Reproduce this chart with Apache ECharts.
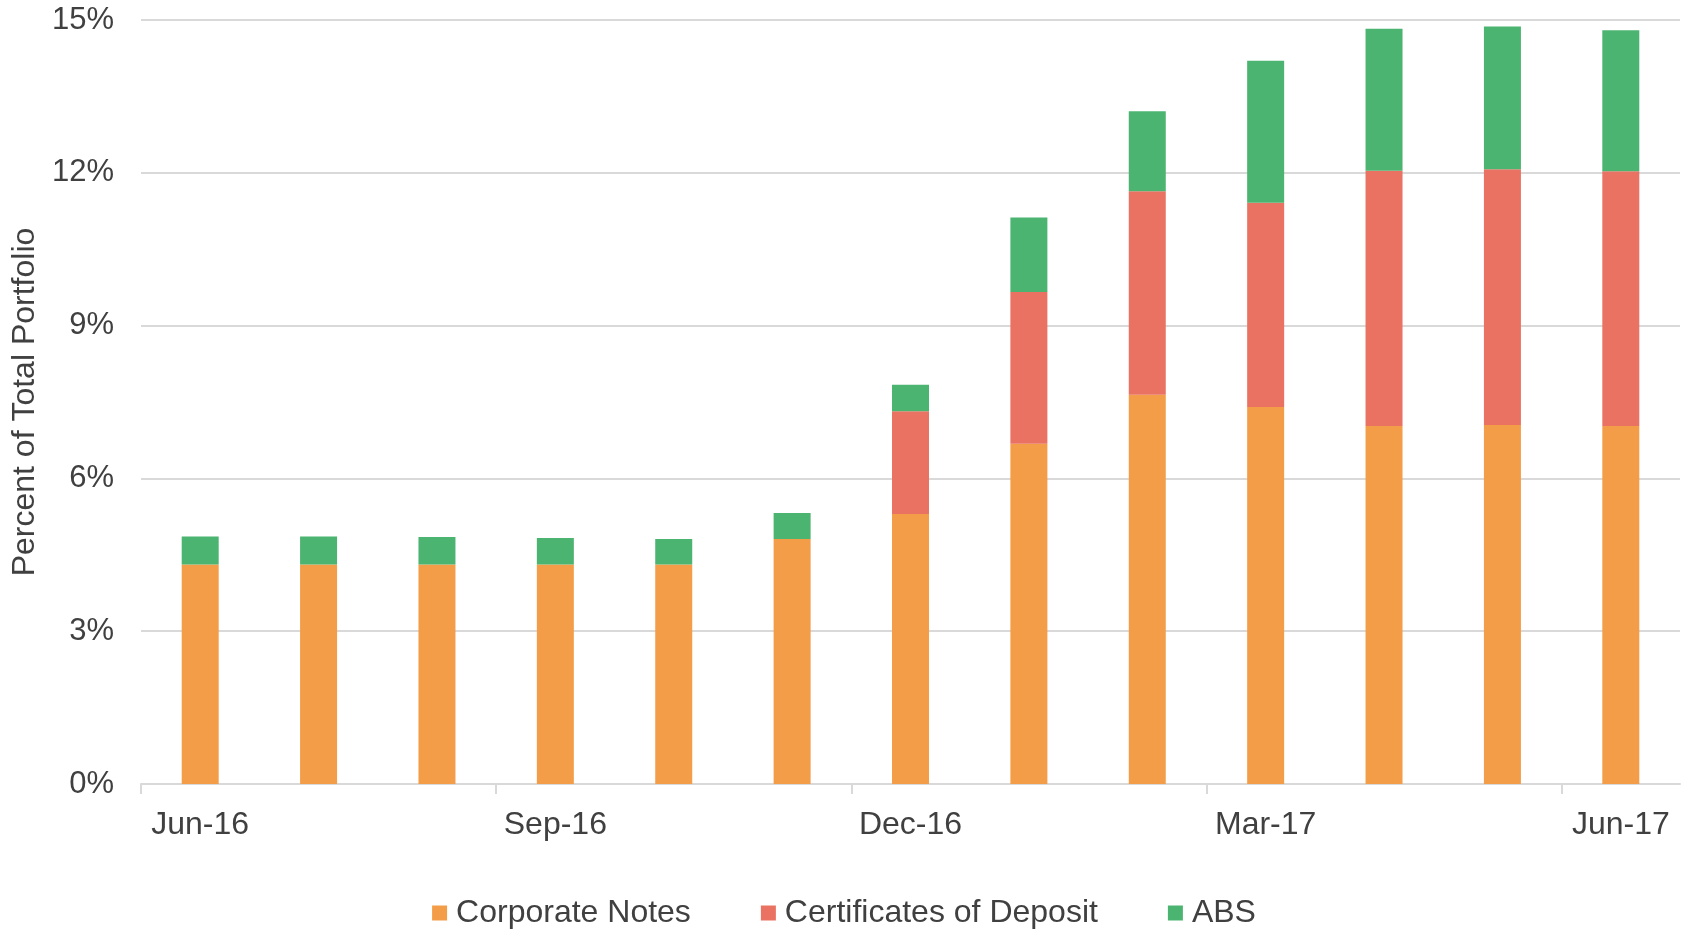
<!DOCTYPE html>
<html>
<head>
<meta charset="utf-8">
<title>Portfolio Composition</title>
<script src="https://cdn.jsdelivr.net/npm/echarts@6/dist/echarts.min.js"></script>
<style>
  html, body { margin: 0; padding: 0; background: #ffffff; }
  #chart { width: 1688px; height: 930px; }
</style>
</head>
<body>
<div id="chart"></div>
<script>
// Monthly categories, June 2016 through June 2017
const months = ['Jun-16', 'Jul-16', 'Aug-16', 'Sep-16', 'Oct-16', 'Nov-16', 'Dec-16',
                'Jan-17', 'Feb-17', 'Mar-17', 'Apr-17', 'May-17', 'Jun-17'];

// Share of total portfolio, in percent
const corporateNotes = [4.31, 4.31, 4.31, 4.31, 4.31, 4.81, 5.30, 6.68, 7.64, 7.40, 7.03, 7.05, 7.03];
const certificatesOfDeposit = [0, 0, 0, 0, 0, 0, 2.02, 2.98, 4.00, 4.01, 5.01, 5.02, 5.00];
const abs = [0.55, 0.55, 0.54, 0.52, 0.50, 0.51, 0.52, 1.46, 1.57, 2.79, 2.79, 2.80, 2.77];

const yTicks = { min: 0, max: 15, step: 3 };

// Quarter boundaries (category index at the left edge of each quarter's first month)
const quarterTicks = [0, 3, 6, 9, 12];

const FONT = '"Liberation Sans", Arial, sans-serif';
const TEXT = '#404040';
const GRID = '#d9d9d9';

const chart = echarts.init(document.getElementById('chart'), null, { renderer: 'canvas' });

function barSeries(name, data, color) {
  return {
    name: name,
    type: 'bar',
    stack: 'total',
    xAxisIndex: 0,
    data: data,
    barWidth: 37,
    itemStyle: { color: color },
    emphasis: { disabled: true }
  };
}

chart.setOption({
  animation: false,
  backgroundColor: '#ffffff',
  textStyle: { fontFamily: FONT },
  grid: { left: 141, right: 8, top: 20, bottom: 146, containLabel: false },
  legend: {
    bottom: -4,
    left: 'center',
    itemWidth: 15,
    itemHeight: 15,
    itemGap: 70,
    icon: 'rect',
    textStyle: { fontFamily: FONT, fontSize: 32, color: TEXT, padding: [0, 0, 0, 4] },
    data: ['Corporate Notes', 'Certificates of Deposit', 'ABS']
  },
  xAxis: [
    {
      type: 'category',
      data: months,
      boundaryGap: true,
      axisLine: { show: true, lineStyle: { color: GRID, width: 2 } },
      axisTick: { show: false },
      axisLabel: { interval: 2, margin: 25, fontFamily: FONT, fontSize: 32, color: TEXT },
      splitLine: { show: false }
    },
    {
      // Index scale spanning the month bands; carries only the quarter tick marks
      type: 'value',
      position: 'bottom',
      min: 0,
      max: months.length,
      axisLine: { show: false },
      axisTick: { show: true, customValues: quarterTicks, length: 10, lineStyle: { color: GRID, width: 2 } },
      axisLabel: { show: false },
      splitLine: { show: false }
    }
  ],
  yAxis: {
    type: 'value',
    min: yTicks.min,
    max: yTicks.max,
    interval: yTicks.step,
    name: 'Percent of Total Portfolio',
    nameLocation: 'middle',
    nameGap: 98,
    nameRotate: 90,
    nameTextStyle: { fontFamily: FONT, fontSize: 32, color: TEXT },
    axisLine: { show: false },
    axisTick: { show: false },
    axisLabel: { formatter: '{value}%', margin: 27, fontFamily: FONT, fontSize: 31, color: TEXT, padding: [4, 0, 0, 0] },
    splitLine: { show: true, lineStyle: { color: GRID, width: 2 } }
  },
  series: [
    barSeries('Corporate Notes', corporateNotes, '#F49D48'),
    barSeries('Certificates of Deposit', certificatesOfDeposit, '#EA7262'),
    barSeries('ABS', abs, '#4BB470')
  ]
});
</script>
</body>
</html>
